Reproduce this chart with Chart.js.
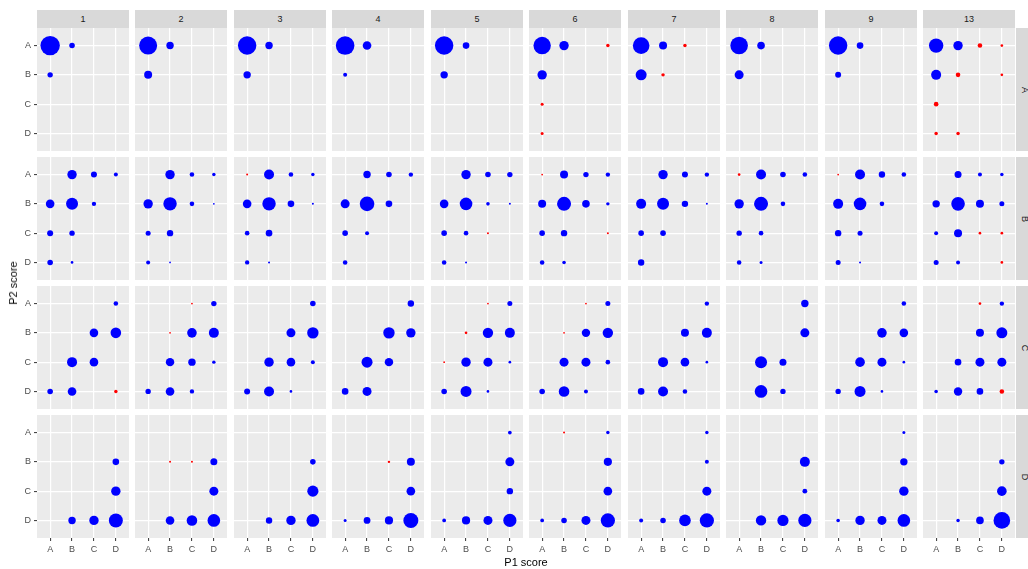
<!DOCTYPE html>
<html><head><meta charset="utf-8">
<script src="https://cdn.jsdelivr.net/npm/chart.js@4/dist/chart.umd.min.js"></script>
<style>
html,body{margin:0;padding:0;background:#fff;width:1028px;height:569px;overflow:hidden;position:relative;font-family:"Liberation Sans",Arial,sans-serif;}
canvas{position:absolute;}
.strip{position:absolute;background:#D9D9D9;color:#1A1A1A;font-size:9px;display:flex;align-items:center;justify-content:center;}
.stripv span{display:inline-block;transform:rotate(90deg);}
.title{position:absolute;color:#000;font-size:11px;white-space:nowrap;}
</style></head><body>
<script>
// ---- data ----
const scores = ['A', 'B', 'C', 'D'];                 // tick labels on both axes
const facetCols = ['1', '2', '3', '4', '5', '6', '7', '8', '9', '13'];
const facetRows = ['A', 'B', 'C', 'D'];
// each point: [P1 score, P2 score, count, flagged(1 = red)]
const rowA = [
  [['A','A',376],['B','A',31],['A','B',29]],
  [['A','A',324],['B','A',55],['A','B',64]],
  [['A','A',339],['B','A',55],['A','B',55]],
  [['A','A',346],['B','A',74],['A','B',16]],
  [['A','A',339],['B','A',44],['A','B',55]],
  [['A','A',303],['B','A',88],['D','A',12,1],['A','B',88],['A','C',9,1],['A','D',9,1]],
  [['A','A',276],['B','A',64],['C','A',12,1],['A','B',121],['B','B',12,1]],
  [['A','A',310],['B','A',58],['A','B',81]],
  [['A','A',339],['B','A',44],['A','B',36]],
  [['A','A',207],['B','A',88],['C','A',21,1],['D','A',7,1],['A','B',100],['B','B',21,1],['D','B',7,1],['A','C',21,1],['A','D',12,1],['B','D',12,1]]
];
const rowB = [
  [['B','A',88],['C','A',36],['D','A',16],['A','B',74],['B','B',144],['C','B',19],['A','C',36],['B','C',29],['A','D',31],['B','D',7]],
  [['B','A',88],['C','A',21],['D','A',12],['A','B',88],['B','B',180],['C','B',21],['D','B',3],['A','C',25],['B','C',41],['A','D',16],['B','D',3]],
  [['A','A',4,1],['B','A',100],['C','A',21],['D','A',12],['A','B',74],['B','B',180],['C','B',44],['D','B',4],['A','C',21],['B','C',44],['A','D',19],['B','D',4]],
  [['B','A',55],['C','A',31],['D','A',19],['A','B',81],['B','B',213],['C','B',44],['A','C',31],['B','C',16],['A','D',21]],
  [['B','A',88],['C','A',31],['D','A',29],['A','B',74],['B','B',159],['C','B',13],['D','B',4],['A','C',31],['B','C',21],['C','C',4,1],['A','D',21],['B','D',4]],
  [['A','A',3,1],['B','A',64],['C','A',29],['D','A',19],['A','B',64],['B','B',196],['C','B',58],['D','B',12],['A','C',31],['B','C',41],['D','C',4,1],['A','D',21],['B','D',13]],
  [['B','A',88],['C','A',36],['D','A',19],['A','B',100],['B','B',144],['C','B',41],['D','B',4],['A','C',31],['B','C',31],['A','D',41]],
  [['A','A',7,1],['B','A',100],['C','A',31],['D','A',21],['A','B',88],['B','B',196],['C','B',21],['A','C',29],['B','C',21],['A','D',21],['B','D',9]],
  [['A','A',3,1],['B','A',100],['C','A',41],['D','A',21],['A','B',100],['B','B',159],['C','B',21],['A','C',41],['B','C',25],['A','D',25],['B','D',4]],
  [['B','A',49],['C','A',16],['D','A',12],['A','B',55],['B','B',185],['C','B',64],['D','B',25],['A','C',16],['B','C',64],['C','C',7,1],['D','C',7,1],['A','D',25],['B','D',16],['D','D',7,1]]
];
const rowC = [
  [['D','A',21],['C','B',74],['D','B',112],['B','C',100],['C','C',74],['A','D',31],['B','D',74],['D','D',12,1]],
  [['C','A',3,1],['D','A',29],['B','B',3,1],['C','B',92],['D','B',100],['B','C',71],['C','C',55],['D','C',12],['A','D',29],['B','D',74],['C','D',19]],
  [['D','A',31],['C','B',81],['D','B',130],['B','C',88],['C','C',74],['D','C',16],['A','D',36],['B','D',100],['C','D',7]],
  [['D','A',41],['C','B',130],['D','B',88],['B','C',121],['C','C',71],['A','D',44],['B','D',81]],
  [['C','A',3,1],['D','A',25],['B','B',7,1],['C','B',108],['D','B',100],['A','C',3,1],['B','C',88],['C','C',81],['D','C',7],['A','D',31],['B','D',121],['C','D',7]],
  [['C','A',3,1],['D','A',25],['B','B',3,1],['C','B',71],['D','B',108],['B','C',81],['C','C',81],['D','C',21],['A','D',31],['B','D',112],['C','D',16]],
  [['D','A',19],['C','B',64],['D','B',100],['B','C',100],['C','C',74],['D','C',7],['A','D',44],['B','D',100],['C','D',21]],
  [['D','A',55],['D','B',81],['B','C',144],['C','C',49],['B','D',159],['C','D',29]],
  [['D','A',21],['C','B',92],['D','B',74],['B','C',92],['C','C',81],['D','C',7],['A','D',29],['B','D',121],['C','D',7]],
  [['C','A',7,1],['D','A',19],['C','B',64],['D','B',121],['B','C',44],['C','C',81],['D','C',81],['A','D',13],['B','D',71],['C','D',44],['D','D',21,1]]
];
const rowD = [
  [['D','B',44],['D','C',88],['B','D',55],['C','D',88],['D','D',196]],
  [['B','B',4,1],['C','B',4,1],['D','B',49],['D','C',81],['B','D',74],['C','D',112],['D','D',159]],
  [['D','B',31],['D','C',125],['B','D',41],['C','D',88],['D','D',164]],
  [['C','B',6,1],['D','B',64],['D','C',74],['A','D',9],['B','D',46],['C','D',67],['D','D',225]],
  [['D','A',14],['D','B',81],['D','C',41],['A','D',14],['B','D',67],['C','D',81],['D','D',174]],
  [['B','A',4,1],['D','A',12],['D','B',67],['D','C',74],['A','D',14],['B','D',31],['C','D',81],['D','D',202]],
  [['D','A',12],['D','B',16],['D','C',81],['A','D',16],['B','D',31],['C','D',135],['D','D',202]],
  [['D','B',100],['D','C',23],['B','D',108],['C','D',125],['D','D',174]],
  [['D','A',9],['D','B',55],['D','C',88],['A','D',13],['B','D',88],['C','D',81],['D','D',159]],
  [['D','B',29],['D','C',92],['B','D',12],['C','D',58],['D','D',276]]
];
const xTitle = 'P1 score';
const yTitle = 'P2 score';

// ---- layout ----
const FONT = '"Liberation Sans", Arial, sans-serif';
const PW = 92, PH = 123;
const colLeft = i => Math.round(37 + i * 98.45);
const rowTop = j => Math.round(28.4 + j * 129);
const Y_AXIS_W = 37, X_AXIS_H = 31, PAGE_H = 569;

function addDiv(cls, style, html) {
  const d = document.createElement('div');
  d.className = cls;
  Object.assign(d.style, style);
  d.innerHTML = html;
  document.body.appendChild(d);
  return d;
}

const bgPlugin = {
  id: 'panelBg',
  beforeDraw(chart) {
    const a = chart.chartArea, ctx = chart.ctx;
    ctx.save();
    ctx.fillStyle = '#EBEBEB';
    ctx.fillRect(a.left, a.top, a.right - a.left, a.bottom - a.top);
    ctx.restore();
  }
};

const toPoint = p => ({ x: scores.indexOf(p[0]) + 1, y: scores.indexOf(p[1]) + 1, r: Math.sqrt(p[2]) / 2 });

// column strips
facetCols.forEach((c, i) => {
  addDiv('strip', { left: colLeft(i) + 'px', top: '10px', width: PW + 'px', height: '18px' }, c);
});
// row strips (right side)
facetRows.forEach((r, j) => {
  addDiv('strip stripv', { left: '1016px', top: rowTop(j) + 'px', width: '19px', height: PH + 'px' }, '<span>' + r + '</span>');
});

const rows = [rowA, rowB, rowC, rowD];
rows.forEach((rowData, j) => {
  rowData.forEach((pts, i) => {
    const isLeft = i === 0, isBottom = j === rows.length - 1;
    const cv = document.createElement('canvas');
    const left = isLeft ? 0 : colLeft(i);
    const w = isLeft ? colLeft(0) + PW : PW;
    const h = isBottom ? PAGE_H - rowTop(j) : PH;
    cv.width = w; cv.height = h;
    cv.style.left = left + 'px'; cv.style.top = rowTop(j) + 'px';
    cv.style.width = w + 'px'; cv.style.height = h + 'px';
    document.body.appendChild(cv);
    const axis = (show, isY) => ({
      type: 'linear', min: 0.4, max: 4.6, reverse: isY,
      afterBuildTicks: s => { s.ticks = scores.map((_, k) => ({ value: k + 1 })); },
      ticks: { display: show, autoSkip: false, maxRotation: 0, padding: 3, color: '#4D4D4D',
               font: { family: FONT, size: 9 }, callback: v => scores[v - 1] },
      grid: { color: '#FFFFFF', lineWidth: 1.2, drawTicks: show, tickLength: 3, tickColor: '#333333', tickWidth: 1 },
      border: { display: false },
      afterFit: s => {
        s.paddingTop = 0; s.paddingBottom = 0; s.paddingLeft = 0; s.paddingRight = 0;
        if (isY) s.width = show ? Y_AXIS_W : 0; else s.height = show ? X_AXIS_H : 0;
      }
    });
    new Chart(cv, {
      type: 'bubble',
      data: {
        datasets: [
          { data: pts.filter(p => !p[3]).map(toPoint), backgroundColor: '#0000FF', borderWidth: 0, hoverRadius: 0, clip: 0 },
          { data: pts.filter(p => p[3]).map(toPoint), backgroundColor: '#FF0000', borderWidth: 0, hoverRadius: 0, clip: 0 }
        ]
      },
      options: {
        responsive: false, animation: false, devicePixelRatio: 1, events: [],
        layout: { padding: 0, autoPadding: false },
        plugins: { legend: { display: false }, tooltip: { enabled: false } },
        scales: { x: axis(isBottom, false), y: axis(isLeft, true) }
      },
      plugins: [bgPlugin]
    });
  });
});

addDiv('title', { left: '526px', top: '556px', transform: 'translateX(-50%)' }, xTitle);
addDiv('title', { left: '13px', top: '283px', transform: 'translate(-50%,-50%) rotate(-90deg)' }, yTitle);
</script>
</body></html>
